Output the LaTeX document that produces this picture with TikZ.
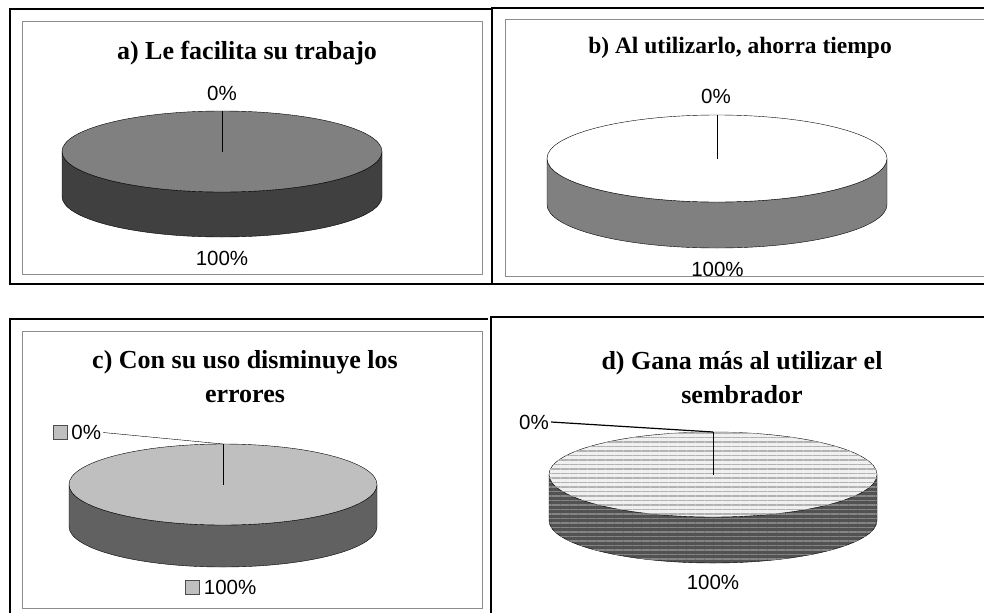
\documentclass[tikz,border=0pt]{standalone}
\usepackage{fontspec}
\setmainfont{Liberation Serif}
\setsansfont{Liberation Sans}
\usetikzlibrary{patterns.meta,positioning}

\begin{document}
\begin{tikzpicture}[x=1pt,y=-1pt,
		frame/.style={line width=2.5pt},
		inner/.style={draw=black!45,line width=1pt},
		title/.style={font=\bfseries\fontsize{26}{34}\selectfont,align=center},
		pct/.style={font=\sffamily\fontsize{20.5}{23}\selectfont,inner sep=2pt},
		keybox/.style={draw=black!70,fill=black!25,minimum size=14pt,inner sep=0pt},
		disc top a/.style={fill=black!50},
		disc side a/.style={fill=black!75},
		disc top b/.style={fill=white},
		disc side b/.style={fill=black!50},
		disc top c/.style={fill=black!25},
		disc side c/.style={fill=black!62},
		disc top d/.style={fill=black!6,postaction={pattern={Lines[angle=0,distance=4.5pt,line width=1.6pt]},pattern color=black!30}},
		disc side d/.style={fill=black!68,postaction={pattern={Lines[angle=0,distance=4.5pt,line width=1.4pt]},pattern color=black!48}}]
		\useasboundingbox (0,0) rectangle (984,613);
		% discs
		\foreach \cx/\cy/\rx/\ry/\dp/\p in {222/151.5/160/40.5/45/a,717/158.5/170/43.5/46/b,223/484.5/154/40.5/42/c,713/474.5/164/42.5/46/d}{
			\draw[disc side \p] (\cx-\rx,\cy) -- ++(0,\dp) arc[start angle=180,end angle=0,x radius=\rx,y radius=\ry] -- ++(0,-\dp) arc[start angle=0,end angle=180,x radius=\rx,y radius=\ry] -- cycle;
			\draw[disc top \p] (\cx,\cy) ellipse[x radius=\rx,y radius=\ry];
			\coordinate (rim\p) at (\cx,\cy-\ry);
			\coordinate (mid\p) at (\cx,\cy);
			\draw (rim\p) -- (mid\p);
		}
		% titles
		\node[title,anchor=base] (ta) at (247,59) {a) Le facilita su trabajo};
		\node[title,anchor=base,font=\bfseries\fontsize{23.5}{30}\selectfont] (tb) at (740,53) {b) Al utilizarlo, ahorra tiempo};
		\node[title] (tc) at (245,377) {c) Con su uso disminuye los\\errores};
		\node[title] (td) at (742,378) {d) Gana más al utilizar el\\sembrador};
		% values
		\node[pct] (a0) at (222,93) {0\%};
		\node[pct] (a100) at (222,258.5) {100\%};
		\node[pct] (b0) at (716,96) {0\%};
		\node[pct] (b100) at (717.5,269.5) {100\%};
		\node[keybox] (ckey0) at (60,432.5) {};
		\node[pct,right=2pt of ckey0] (c0) {0\%};
		\node[keybox] (ckey100) at (192.5,587.5) {};
		\node[pct,right=2pt of ckey100] (c100) {100\%};
		\node[pct] (d0) at (534,422) {0\%};
		\node[pct] (d100) at (713,582.5) {100\%};
		\draw (c0.east) -- (rimc);
		\draw[line width=1.2pt] (d0.east) -- (rimd);
		% frames
		\draw[inner] (22,21) rectangle (482,274);
		\draw[inner] (984,19) -- (505,19) -- (505,276) -- (984,276);
		\draw[inner] (22,331) rectangle (482,608);
		\draw[frame] (10,9) rectangle (492,284);
		\draw[frame] (984,8) -- (492,8) -- (492,284) -- (984,284);
		\draw[frame] (10,613) -- (10,319) -- (488,319);
		\draw[frame] (491,613) -- (491,317) -- (984,317);
	\end{tikzpicture}
\end{document}
